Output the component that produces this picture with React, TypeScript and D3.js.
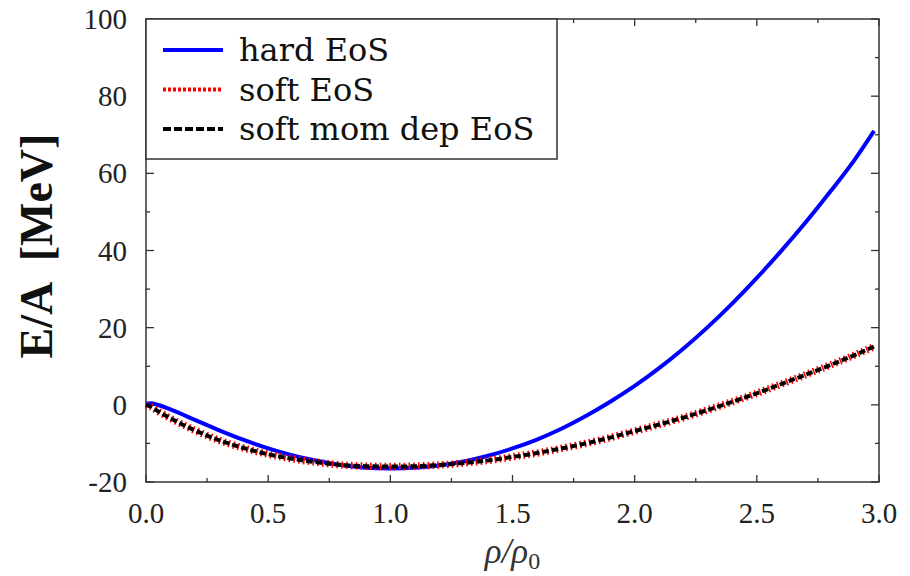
import React, { useRef, useEffect } from "react";
import * as d3 from "d3";

// density rho/rho0 sample points
const rho = [
  0, 0.02, 0.05, 0.1, 0.2, 0.3, 0.4, 0.5, 0.6, 0.7, 0.8, 0.9, 1.0, 1.1, 1.2, 1.3, 1.4, 1.5,
  1.6, 1.7, 1.8, 1.9, 2.0, 2.1, 2.2, 2.3, 2.4, 2.5, 2.6, 2.7, 2.8, 2.9, 2.98,
];
// E/A in MeV
const hardEos = [
  0.2, 0.4, -0.05, -1.2, -3.9, -6.6, -9.1, -11.3, -13.1, -14.5, -15.6, -16.3, -16.5, -16.3,
  -15.7, -14.7, -13.2, -11.3, -9.0, -6.2, -2.9, 0.8, 4.9, 9.5, 14.6, 20.2, 26.3, 32.9, 39.9,
  47.3, 55.2, 63.5, 71.0,
];
const softEos = [
  0, -0.5, -1.7, -3.5, -6.6, -9.2, -11.2, -12.8, -14.0, -14.9, -15.6, -15.9, -16.0, -15.9,
  -15.6, -15.1, -14.4, -13.5, -12.5, -11.3, -10.0, -8.5, -6.8, -5.1, -3.3, -1.3, 0.8, 3.0,
  5.4, 7.8, 10.3, 12.9, 15.1,
];
const softMomDepEos = [
  0, -0.5, -1.7, -3.5, -6.6, -9.2, -11.2, -12.8, -14.0, -14.9, -15.6, -15.9, -16.0, -15.9,
  -15.6, -15.1, -14.4, -13.5, -12.5, -11.3, -10.0, -8.5, -6.8, -5.1, -3.3, -1.3, 0.8, 3.0,
  5.4, 7.8, 10.3, 12.9, 15.1,
];

const xMajor = [0, 0.5, 1.0, 1.5, 2.0, 2.5, 3.0];
const xMinor = [0.25, 0.75, 1.25, 1.75, 2.25, 2.75];
const yMajor = [-20, 0, 20, 40, 60, 80, 100];
const yMinor = [-10, 10, 30, 50, 70, 90];

const legendLabels = ["hard EoS", "soft EoS", "soft mom dep EoS"];

const App = () => {
  const wrapper = useRef(null);
  const width = 910;
  const height = 576;
  const left = 146;
  const right = 879;
  const top = 19;
  const bottom = 482;

  useEffect(() => {
    d3.select(wrapper.current).selectAll("svg").remove();

    const svg = d3
      .select(wrapper.current)
      .append("svg")
      .attr("width", width)
      .attr("height", height)
      .style("position", "absolute")
      .style("left", "0px")
      .style("top", "0px")
      .style("background", "#fff");

    const x = d3.scaleLinear().domain([0, 3]).range([left, right]);
    const y = d3.scaleLinear().domain([-20, 100]).range([bottom, top]);
    const axisColor = "#333";
    const font = "'Liberation Serif', 'Times New Roman', serif";

    // frame
    svg
      .append("rect")
      .attr("x", left)
      .attr("y", top)
      .attr("width", right - left)
      .attr("height", bottom - top)
      .attr("fill", "none")
      .attr("stroke", axisColor)
      .attr("stroke-width", 1.5);

    const ticks = svg.append("g").attr("stroke", axisColor).attr("stroke-width", 1.3);
    const xt = (vals, len) => {
      vals.forEach((v) => {
        ticks.append("line").attr("x1", x(v)).attr("x2", x(v)).attr("y1", bottom).attr("y2", bottom - len);
        ticks.append("line").attr("x1", x(v)).attr("x2", x(v)).attr("y1", top).attr("y2", top + len);
      });
    };
    const yt = (vals, len) => {
      vals.forEach((v) => {
        ticks.append("line").attr("y1", y(v)).attr("y2", y(v)).attr("x1", left).attr("x2", left + len);
        ticks.append("line").attr("y1", y(v)).attr("y2", y(v)).attr("x1", right).attr("x2", right - len);
      });
    };
    xt(xMajor, 7);
    xt(xMinor, 4);
    yt(yMajor, 8);
    yt(yMinor, 4);

    svg
      .selectAll(".xlab")
      .data(xMajor)
      .enter()
      .append("text")
      .attr("x", (d) => x(d))
      .attr("y", 523)
      .attr("text-anchor", "middle")
      .style("font-family", font)
      .style("font-size", "29px")
      .attr("fill", "#222")
      .text((d) => d3.format(".1f")(d));

    svg
      .selectAll(".ylab")
      .data(yMajor)
      .enter()
      .append("text")
      .attr("x", 127)
      .attr("y", (d) => y(d))
      .attr("dy", "0.35em")
      .attr("text-anchor", "end")
      .style("font-family", font)
      .style("font-size", "29px")
      .attr("fill", "#222")
      .text((d) => (d < 0 ? "-" + Math.abs(d) : String(d)));

    // axis titles
    svg
      .append("text")
      .attr("transform", "translate(52,246) rotate(-90)")
      .attr("text-anchor", "middle")
      .style("font-family", font)
      .style("font-size", "46px")
      .style("font-weight", "bold")
      .attr("fill", "#111")
      .attr("xml:space", "preserve")
      .text("E/A  [MeV]");

    const xTitle = svg
      .append("text")
      .attr("x", (left + right) / 2)
      .attr("y", 563)
      .attr("text-anchor", "middle")
      .style("font-family", font)
      .style("font-size", "35px")
      .attr("fill", "#333");
    xTitle.append("tspan").style("font-style", "italic").text("ρ/ρ");
    xTitle.append("tspan").attr("dy", 6).style("font-size", "24px").text("0");

    const points = (vals) => rho.map((r, i) => [r, vals[i]]);
    const line = d3
      .line()
      .x((d) => x(d[0]))
      .y((d) => y(d[1]))
      .curve(d3.curveMonotoneX);

    svg
      .append("path")
      .attr("d", line(points(hardEos)))
      .attr("fill", "none")
      .attr("stroke", "#0000ff")
      .attr("stroke-width", 4);
    svg
      .append("path")
      .attr("d", line(points(softEos)))
      .attr("fill", "none")
      .attr("stroke", "#ff0000")
      .attr("stroke-width", 7.5)
      .attr("stroke-dasharray", "1.6,3.2");
    svg
      .append("path")
      .attr("d", line(points(softMomDepEos)))
      .attr("fill", "none")
      .attr("stroke", "#000")
      .attr("stroke-width", 4)
      .attr("stroke-dasharray", "6.5,3");

    // legend
    const legend = svg.append("g");
    legend
      .append("rect")
      .attr("x", left)
      .attr("y", top)
      .attr("width", 557 - left)
      .attr("height", 159 - top)
      .attr("fill", "#fff")
      .attr("stroke", axisColor)
      .attr("stroke-width", 1.5);
    const styles = [
      { color: "#0000ff", dash: null, w: 4 },
      { color: "#ff0000", dash: "3,2", w: 4 },
      { color: "#000", dash: "8,3", w: 4 },
    ];
    legendLabels.forEach((label, i) => {
      const cy = 50 + i * 39.5;
      legend
        .append("line")
        .attr("x1", 163)
        .attr("x2", 223)
        .attr("y1", cy)
        .attr("y2", cy)
        .attr("stroke", styles[i].color)
        .attr("stroke-width", styles[i].w)
        .attr("stroke-dasharray", styles[i].dash);
      legend
        .append("text")
        .attr("x", 239)
        .attr("y", cy + 11)
        .style("font-family", "'DejaVu Serif', serif")
        .style("font-size", "32px")
        .attr("fill", "#111")
        .text(label);
    });
  }, [wrapper]);

  return <div ref={wrapper}></div>;
};

export default App;
